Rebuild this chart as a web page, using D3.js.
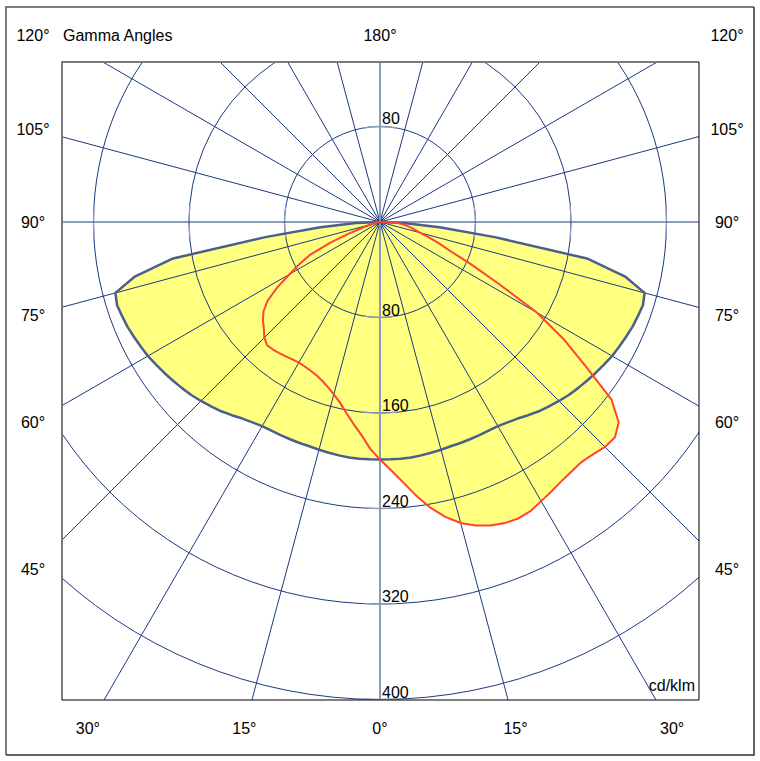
<!DOCTYPE html>
<html>
  <head>
    <meta charset="utf-8">
    <title>Gamma Angles</title>
    <script src="https://d3js.org/d3.v7.min.js" type="text/javascript"></script>
    <style>
      body { margin: 0; background: #fff; }
      text { font-family: "Liberation Sans", Arial, sans-serif; font-size: 16px; fill: #000; }
    </style>
  </head>
  <body>
    <script>
      // gamma angles (degrees from nadir) at which the curves were read
      var gammaAngles = [0, 2.5, 5, 7.5, 10, 12.5, 15, 17.5, 20, 22.5, 25, 27.5, 30, 32.5, 35, 37.5,
                         40, 42.5, 45, 47.5, 50, 52.5, 55, 57.5, 60, 62.5, 65, 67.5, 70, 72.5, 75,
                         77.5, 80, 82.5, 85, 87.5, 90];

      // C0 - C180 plane (symmetric), cd/klm
      var planeC0 = [199, 199, 199, 199, 198.5, 198, 197.5, 197, 197, 197, 197, 197, 197.5, 199, 201, 204,
                     207, 209.5, 212, 214.5, 216.5, 218.5, 220.5, 222.5, 224.5, 226, 227.5, 229, 230, 231, 229.5,
                     210, 176, 97, 50, 20, 0];

      // C90 plane (right half), cd/klm
      var planeC90 = [199, 208, 218.5, 231, 243, 253, 261, 266.5, 270.5, 273, 274, 273, 270, 267.5, 265, 263.5,
                      262.5, 264, 266.5, 267, 261, 244.5, 210, 182, 152, 112, 85, 64, 53, 43, 35,
                      30, 26, 22, 18, 12, 0];

      // C270 plane (left half), cd/klm
      var planeC270 = [199, 190, 179, 170.5, 162.5, 155, 149.5, 145, 141.5, 139, 137.5, 136.5, 136, 136.5, 137.5, 138.5,
                       139.5, 140, 137, 132, 128, 123, 115, 102, 87.5, 76, 64, 45, 25, 14, 8,
                       5, 3, 2, 1, 0.5, 0];

      var ringValues = [80, 160, 240, 320, 400];
      var spokeAngles = [0, 15, 30, 45, 60, 75, 90, 105, 120, 135, 150, 165, 180, 195, 210, 225, 240, 255, 270, 285, 300, 315, 330, 345];
      var bottomLabels = [-30, -15, 0, 15, 30];
      var sideLabels = [-120, -105, -90, -75, -60, -45, 45, 60, 75, 90, 105, 120];
      var topLabels = [180];

      var w = 760, h = 761;
      var cx = 380, cy = 222;
      var px0 = 62, py0 = 62, px1 = 699, py1 = 700;

      var gridColor = "#1b3a7e";
      var axisColor = "#8a9bbd";

      var rad = function(d) { return d * Math.PI / 180; };

      var r = d3.scaleLinear().domain([0, 400]).range([0, 477.5]);

      var svg = d3.select("body").append("svg")
                  .attr("width", w)
                  .attr("height", h);

      // outer frame (sunken look)
      svg.append("path").attr("d", "M6,755V7H754").attr("fill", "none").attr("stroke", "#7a7a7a").attr("stroke-width", 2);
      svg.append("path").attr("d", "M6,755H754V7").attr("fill", "none").attr("stroke", "#333").attr("stroke-width", 1.5);

      svg.append("clipPath").attr("id", "plotclip")
         .append("rect").attr("x", px0).attr("y", py0).attr("width", px1 - px0).attr("height", py1 - py0);

      var plot = svg.append("g").attr("clip-path", "url(#plotclip)");
      var g = plot.append("g").attr("transform", "translate(" + cx + "," + cy + ")");

      // build the closed curve of a plane pair: left half from 90 down to 0, right half 0 to 90
      function curvePoints(left, right) {
        var pts = [];
        for (var i = gammaAngles.length - 1; i >= 0; i--) pts.push({ a: Math.PI + rad(gammaAngles[i]), v: left[i] });
        for (var j = 1; j < gammaAngles.length; j++) pts.push({ a: Math.PI - rad(gammaAngles[j]), v: right[j] });
        return pts;
      }

      var radial = d3.lineRadial()
                     .angle(function(d) { return d.a; })
                     .radius(function(d) { return r(d.v); });

      var blueCurve = curvePoints(planeC0, planeC0);
      var redCurve = curvePoints(planeC270, planeC90);

      // fills
      g.append("path").attr("d", radial(blueCurve) + "Z").attr("fill", "#ffff80");
      g.append("path").attr("d", radial(redCurve) + "Z").attr("fill", "#ffff80");

      // rings
      g.selectAll(".ring")
       .data(ringValues)
       .enter().append("circle")
       .attr("class", "ring")
       .attr("r", function(d) { return r(d); })
       .attr("fill", "none")
       .attr("stroke", gridColor)
       .attr("stroke-width", 1);

      // lighter bits of the rings where they cross the axes
      ringValues.forEach(function(v) {
        var rr = r(v);
        var da = 16 / rr;
        [0, 0.5, 1, 1.5].forEach(function(q) {
          var p = d3.path();
          var mid = q * Math.PI;
          p.arc(0, 0, rr, mid - da, mid + da);
          g.append("path").attr("d", p.toString()).attr("fill", "none")
           .attr("stroke", axisColor).attr("stroke-width", 1.3);
        });
      });

      // spokes
      g.selectAll(".spoke")
       .data(spokeAngles.filter(function(d) { return d !== 0 && d !== 180; }))
       .enter().append("line")
       .attr("class", "spoke")
       .attr("x1", 0).attr("y1", 0)
       .attr("x2", function(d) { return 900 * Math.sin(rad(d)); })
       .attr("y2", function(d) { return 900 * Math.cos(rad(d)); })
       .attr("stroke", gridColor)
       .attr("stroke-width", 1);

      // vertical 0-180 axis
      g.append("line")
       .attr("x1", 0).attr("y1", -900).attr("x2", 0).attr("y2", 900)
       .attr("stroke", axisColor).attr("stroke-width", 2);

      // outlines
      g.append("path").attr("d", radial(blueCurve)).attr("fill", "none")
       .attr("stroke", "#4b5f8e").attr("stroke-width", 2.5).attr("stroke-linejoin", "round");
      g.append("path").attr("d", radial(redCurve)).attr("fill", "none")
       .attr("stroke", "#ff4530").attr("stroke-width", 2).attr("stroke-linejoin", "round");

      // ring labels
      g.selectAll(".rlab")
       .data(ringValues)
       .enter().append("text")
       .attr("class", "rlab")
       .attr("x", 2)
       .attr("y", function(d) { return r(d) - 2; })
       .text(function(d) { return d; });
      g.append("text").attr("x", 2).attr("y", -r(ringValues[0]) - 3).text(ringValues[0]);

      // plot frame
      svg.append("path").attr("d", "M" + px0 + "," + py1 + "V" + py0 + "H" + px1)
         .attr("fill", "none").attr("stroke", "#7a7a7a").attr("stroke-width", 2);
      svg.append("path").attr("d", "M" + px0 + "," + py1 + "H" + px1 + "V" + py0)
         .attr("fill", "none").attr("stroke", "#000").attr("stroke-width", 1);

      // angle labels
      var sideDist = 347, bottomY = 728, topY = 35;
      function labelXY(a) {
        var s = a < 0 ? -1 : (a > 0 ? 1 : 0), m = Math.abs(a);
        if (m < 45) return [cx + s * (bottomY - cy) * Math.tan(rad(m)), bottomY];
        if (m > 135) return [cx + s * (cy - topY) * Math.tan(rad(180 - m)), topY];
        var y = cy + sideDist / Math.tan(rad(m));
        return [cx + s * sideDist, Math.max(topY, Math.min(bottomY, y))];
      }

      svg.selectAll(".alab")
         .data(bottomLabels.concat(sideLabels, topLabels))
         .enter().append("text")
         .attr("class", "alab")
         .attr("x", function(d) { return labelXY(d)[0]; })
         .attr("y", function(d) { return labelXY(d)[1]; })
         .attr("dy", "0.35em")
         .attr("text-anchor", "middle")
         .text(function(d) { return Math.abs(d) + "°"; });

      svg.append("text").attr("x", 63).attr("y", 35).attr("dy", "0.35em").text("Gamma Angles");
      svg.append("text").attr("x", 695).attr("y", 691).attr("text-anchor", "end").text("cd/klm");
    </script>
  </body>
</html>
